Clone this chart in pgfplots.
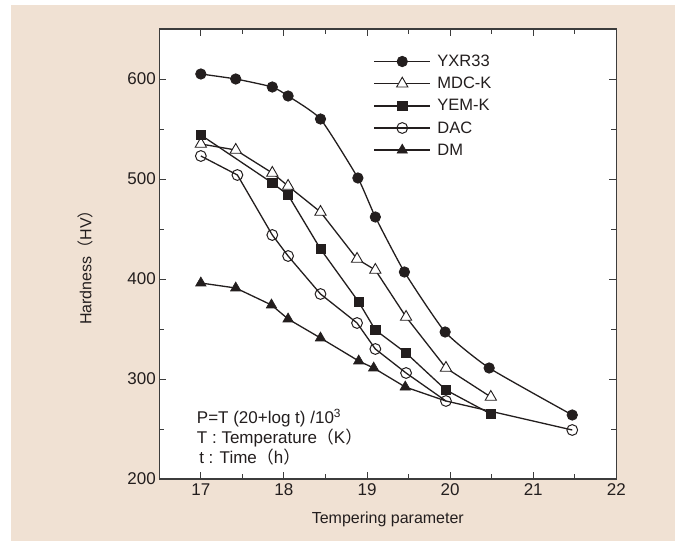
\documentclass[border=0pt]{standalone}
\usepackage{fontspec}
\setmainfont{Liberation Sans}
\newfontfamily\cjk{Noto Sans CJK JP}
\usepackage{pgfplots}
\pgfplotsset{compat=1.18}
\definecolor{beige}{RGB}{240,225,211}
\definecolor{ink}{RGB}{35,30,30}
\definecolor{frame}{RGB}{60,60,60}
\begin{document}
\begin{tikzpicture}[x=1pt,y=1pt]
\path[use as bounding box] (0,0) rectangle (680,541);
\fill[white] (0,0) rectangle (680,541);
\fill[beige] (11,0) rectangle (675,536);
\begin{axis}[
  at={(159.3pt,62pt)}, anchor=south west,
  scale only axis, width=457pt, height=450pt,
  xmin=16.5, xmax=22, ymin=200, ymax=650,
  axis background/.style={fill=white},
  axis line style={line width=1.1pt, color=frame},
  xtick={17,18,19,20,21,22}, ytick={200,300,400,500,600},
  minor x tick num=1, minor y tick num=1,
  xtick pos=both, ytick pos=both,
  xticklabel pos=lower, yticklabel pos=left,
  tick align=inside,
  major tick length=7pt, minor tick length=5pt,
  every tick/.style={line width=0.9pt, color=frame},
  /pgf/number format/assume math mode=true,
  tick label style={font=\fontsize{17}{19}\selectfont, text=ink},
  xticklabel style={yshift=-1.5pt},
  xlabel={Tempering parameter},
  xlabel style={at={(axis description cs:0.5,-0.089)}, anchor=center, font=\fontsize{16}{18}\selectfont, text=ink},
  ylabel={Hardness{\cjk （}HV{\cjk ）}},
  ylabel style={at={(axis description cs:-0.162,0.479)}, anchor=center, font=\fontsize{16}{18}\selectfont, text=ink},
  legend style={draw=none, fill=none, at={(rel axis cs:0.4685,0.946)}, anchor=north west,
    font=\fontsize{16.5}{19}\selectfont, text=ink, row sep=6.2pt, inner sep=0pt,
    nodes={inner sep=1.5pt}},
  legend cell align=left,
  legend image code/.code={
    \draw[mark repeat=2,mark phase=2,#1] plot coordinates {(0pt,0pt) (28pt,0pt) (56pt,0pt)};
    \path (61pt,0pt);
  },
  every axis plot/.append style={line width=1.3pt, color=ink},
]
% DM drawn first so that the DAC circle covers its last (hidden) point
\addplot[forget plot, mark=triangle*, mark size=6pt, mark indices={1,2,3,4,5,6,7,8}, mark options={fill=ink, line width=0.6pt}] coordinates {
 (17.0,396) (17.42,391) (17.85,374) (18.05,360) (18.44,341) (18.90,318) (19.08,311) (19.46,292) (19.95,278)};
\addplot[smooth, tension=0.3, mark=*, mark size=5.2pt, mark options={fill=ink, line width=0.8pt}] coordinates {
 (17.0,605) (17.42,600) (17.86,592) (18.05,583) (18.44,560) (18.89,501) (19.10,462) (19.45,407) (19.94,347) (20.47,311) (21.47,264)};
\addlegendentry{YXR33}
\addplot[mark=triangle*, mark size=6.5pt, mark options={fill=white, line width=0.9pt}] coordinates {
 (17.0,535) (17.42,529) (17.86,506) (18.05,493) (18.44,467) (18.88,420) (19.10,409) (19.47,362) (19.95,311) (20.49,282)};
\addlegendentry{MDC-K}
\addplot[mark=square*, mark size=4.6pt, mark options={fill=ink, line width=0.6pt}] coordinates {
 (17.0,544) (17.86,496) (18.05,484) (18.44,430) (18.90,377) (19.10,349) (19.47,326) (19.95,289) (20.49,265)};
\addlegendentry{YEM-K}
\addplot[mark=o, mark size=5.4pt, mark options={fill=white, line width=1pt}] coordinates {
 (17.0,523) (17.44,504) (17.86,444) (18.05,423) (18.44,385) (18.88,356) (19.10,330) (19.47,306) (19.95,278) (21.47,249)};
\addlegendentry{DAC}
\addlegendimage{line width=1.3pt, color=ink, mark=triangle*, mark size=6pt, mark options={fill=ink, line width=0.6pt}}
\addlegendentry{DM}
\node[anchor=base west, inner sep=0pt, font=\fontsize{17}{19}\selectfont, text=ink] at (rel axis cs:0.082,0.1233) {P=T (20+log t) /10\textsuperscript{3}};
\node[anchor=base west, inner sep=0pt, font=\fontsize{17}{19}\selectfont, text=ink] at (rel axis cs:0.082,0.0789) {T : Temperature{\cjk （}K{\cjk ）}};
\node[anchor=base west, inner sep=0pt, font=\fontsize{17}{19}\selectfont, text=ink] at (rel axis cs:0.087,0.0344) {t : Time{\cjk （}h{\cjk ）}};
\end{axis}
\end{tikzpicture}
\end{document}
